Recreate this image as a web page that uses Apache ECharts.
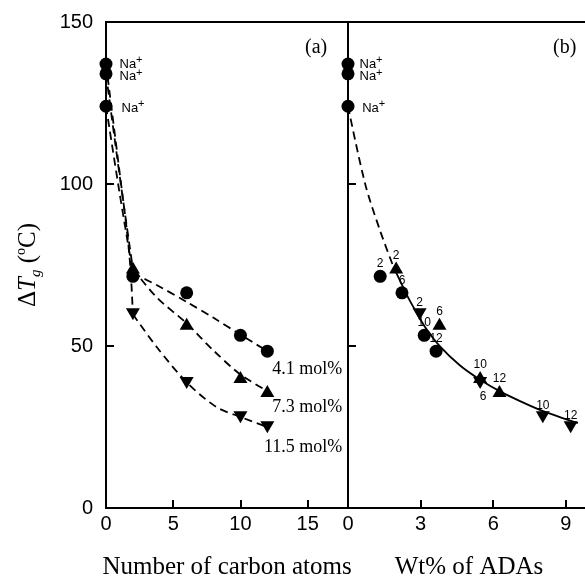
<!DOCTYPE html>
<html>
<head>
<meta charset="utf-8">
<script src="https://cdn.jsdelivr.net/npm/echarts@6/dist/echarts.min.js"></script>
<style>
  html, body { margin: 0; padding: 0; background: #fff; }
  #chart { width: 585px; height: 588px; }
</style>
</head>
<body>
<div id="chart"></div>
<script>
// Glass transition increase (°C) of the ionomers, by diamine chain length
const carbonAtoms = [2, 6, 10, 12];
const tgNa = [124, 134, 137];            // Na+ salts (0 carbon atoms): 4.1, 7.3, 11.5 mol%
const tg41 = [71.5, 66.4, 53.3, 48.4];   // 4.1 mol%
const tg73 = [74.2, 56.9, 40.4, 36.1];   // 7.3 mol%
const tg115 = [59.8, 38.6, 28.0, 24.9];  // 11.5 mol%

// Weight percent of added diamine for the same samples
const wt41 = [1.33, 2.23, 3.15, 3.64];
const wt73 = [1.99, 3.78, 5.46, 6.26];
const wt115 = [2.96, 5.46, 8.05, 9.20];

const molLabels = ['4.1 mol%', '7.3 mol%', '11.5 mol%'];

// Hand-drawn guide curves (carbon atoms, ΔTg): steep drop from the Na+ salt, then the tail
const guide41Drop = [[0, 124], [1, 97.5], [2, 72.5]];
const guide41Tail = [[2, 72.5], [4, 68.3], [6, 63.6], [8, 58.7], [10, 53.5], [12, 48.4]];
const guide73Drop = [[0, 134], [1, 103], [2, 73.8]];
const guide73Tail = [[2, 73.8], [3.77, 65], [6, 57], [7.97, 48.7], [10, 41.2], [12, 36.1]];
const guide115Drop = [[0, 137], [1, 104], [1.6, 84], [1.85, 72], [2, 59.8]];
const guide115Tail = [[2, 59.8], [3.77, 49.7], [6, 38.8], [8.2, 31.2], [10, 28.1], [12, 25.0]];

// Master curve against weight percent: extrapolated part and fitted part
const fitDashed = [[0, 124], [0.71, 100], [1.33, 85.5], [1.88, 74.4]];
const fitSolid = [[1.88, 74.4], [2.43, 65.8], [2.78, 61.0], [3.19, 55.8], [3.81, 49.8], [4.63, 44.0],
                  [5.46, 39.6], [6.28, 36.0], [7.11, 33.0], [8.03, 30.0], [9.5, 26.2]];

// Axis ranges: [min, max, interval]
const yRange = [0, 150, 50];
const xRangeA = [0, 18, 5];
const xRangeB = [0, 10, 3];

const SANS = 'Liberation Sans';
const SERIF = 'Liberation Serif';
const INK = '#000';

const SYMBOLS = {
  circle: { symbol: 'circle', size: 13 },
  up: { symbol: 'triangle', size: [14, 12] },
  down: { symbol: 'path://M0,0L2,0L1,1.7Z', size: [14, 12] }
};

const MARK = { color: INK, opacity: 1, borderWidth: 0 };

const chart = echarts.init(document.getElementById('chart'), null, { renderer: 'canvas' });

function axisStyle() {
  return {
    axisLine: { show: true, onZero: false, lineStyle: { color: INK, width: 2 } },
    axisTick: { show: true, inside: true, length: 8, lineStyle: { color: INK, width: 2 } },
    splitLine: { show: false }
  };
}

function xAxis(gridIndex, range, name) {
  return Object.assign({
    type: 'value', gridIndex, min: range[0], max: range[1], interval: range[2],
    axisLabel: { showMaxLabel: false, margin: 6, fontFamily: SANS, fontSize: 20, color: INK },
    name, nameLocation: 'middle', nameGap: 47,
    nameTextStyle: { fontFamily: SERIF, fontSize: 25, color: INK }
  }, axisStyle());
}

function yAxis(gridIndex, withLabels) {
  const ax = Object.assign({
    type: 'value', gridIndex, min: yRange[0], max: yRange[1], interval: yRange[2],
    axisLabel: { show: withLabels, margin: 13, fontFamily: SANS, fontSize: 20, color: INK }
  }, axisStyle());
  if (withLabels) {
    ax.name = '{d|Δ}{t|T}{g|g}{n| (}{o|o}{n|C)}';
    ax.nameLocation = 'middle';
    ax.nameGap = 62;
    ax.nameTextStyle = {
      color: INK,
      rich: {
        d: { fontFamily: SERIF, fontSize: 25, color: INK },
        t: { fontFamily: SERIF, fontSize: 25, fontStyle: 'italic', color: INK },
        g: { fontFamily: SERIF, fontSize: 15, fontStyle: 'italic', color: INK, padding: [16, 0, 0, 0] },
        n: { fontFamily: SERIF, fontSize: 25, color: INK },
        o: { fontFamily: SERIF, fontSize: 14, color: INK, padding: [0, 0, 14, 0] }
      }
    };
  }
  return ax;
}

function guideLine(data, gridIdx, dashed) {
  return {
    type: 'line', xAxisIndex: gridIdx, yAxisIndex: gridIdx, data,
    symbol: 'none', smooth: 0.3, silent: true, z: 2,
    lineStyle: { color: INK, width: 1.8, opacity: 1, type: dashed ? [8, 5] : 'solid' }
  };
}

const naRich = {
  n: { fontFamily: SANS, fontSize: 13, color: INK },
  p: { fontFamily: SANS, fontSize: 11, color: INK, padding: [0, 0, 8, 0] }
};

function naSeries(gridIdx, dist, offsets) {
  return {
    type: 'scatter', xAxisIndex: gridIdx, yAxisIndex: gridIdx, clip: false, z: 4,
    symbol: 'circle', symbolSize: 13, itemStyle: MARK,
    data: tgNa.map((v, i) => ({
      value: [0, v],
      label: { show: true, position: 'right', distance: dist, offset: offsets[i], opacity: 1,
               color: INK, formatter: '{n|Na}{p|+}', rich: naRich }
    }))
  };
}

// Panel (a): ΔTg against number of carbon atoms, composition label on the last point
function panelA(tg, shape, label, dy) {
  const s = SYMBOLS[shape];
  return {
    type: 'scatter', xAxisIndex: 0, yAxisIndex: 0, clip: false, z: 4, name: label,
    symbol: s.symbol, symbolSize: s.size, itemStyle: MARK,
    data: carbonAtoms.map((c, i) => {
      const item = { value: [c, tg[i]] };
      if (i === carbonAtoms.length - 1) {
        item.label = { show: true, formatter: label, position: 'bottom', align: 'right', opacity: 1,
                       distance: 0, offset: [75, dy], fontFamily: SERIF, fontSize: 18, color: INK };
      }
      return item;
    })
  };
}

// Panel (b): ΔTg against weight percent, each point tagged with its carbon number
function panelB(wt, tg, shape, belowAt) {
  const s = SYMBOLS[shape];
  return {
    type: 'scatter', xAxisIndex: 1, yAxisIndex: 1, clip: false, z: 4,
    symbol: s.symbol, symbolSize: s.size, itemStyle: MARK,
    label: { show: true, position: 'top', distance: 0, formatter: p => String(p.value[2]),
             opacity: 1, fontFamily: SANS, fontSize: 12, color: INK },
    data: wt.map((w, i) => {
      const item = { value: [w, tg[i], carbonAtoms[i]] };
      if (carbonAtoms[i] === belowAt) {
        item.label = { position: 'bottom', distance: 2, offset: [3, 0] };
      }
      return item;
    })
  };
}

const gridBase = { top: 22, height: 486, show: true, borderColor: INK, borderWidth: 2,
                   backgroundColor: 'transparent', containLabel: false, outerBoundsMode: 'none' };

chart.setOption({
  animation: false,
  backgroundColor: '#fff',
  grid: [
    Object.assign({ left: 106, width: 242 }, gridBase),
    Object.assign({ left: 348, width: 242 }, gridBase)
  ],
  xAxis: [
    xAxis(0, xRangeA, 'Number of carbon atoms'),
    xAxis(1, xRangeB, 'Wt% of ADAs')
  ],
  yAxis: [yAxis(0, true), yAxis(1, false)],
  graphic: [
    { type: 'text', left: 305, top: 38, z: 10,
      style: { text: '(a)', font: '20px "Liberation Serif"', fill: INK } },
    { type: 'text', left: 553, top: 38, z: 10,
      style: { text: '(b)', font: '20px "Liberation Serif"', fill: INK } }
  ],
  series: [
    guideLine(guide41Drop, 0, true),
    guideLine(guide41Tail, 0, true),
    guideLine(guide73Drop, 0, true),
    guideLine(guide73Tail, 0, true),
    guideLine(guide115Drop, 0, true),
    guideLine(guide115Tail, 0, true),
    naSeries(0, 7, [[2, 2], [0, 2.7], [0, 0]]),
    panelA(tg41, 'circle', molLabels[0], 3),
    panelA(tg73, 'up', molLabels[1], 1),
    panelA(tg115, 'down', molLabels[2], 5),

    guideLine(fitDashed, 1, true),
    guideLine(fitSolid, 1, false),
    naSeries(1, 5, [[2.7, 2], [0, 2.7], [0, 0]]),
    panelB(wt41, tg41, 'circle', null),
    panelB(wt73, tg73, 'up', null),
    panelB(wt115, tg115, 'down', 6)
  ]
});
</script>
</body>
</html>
